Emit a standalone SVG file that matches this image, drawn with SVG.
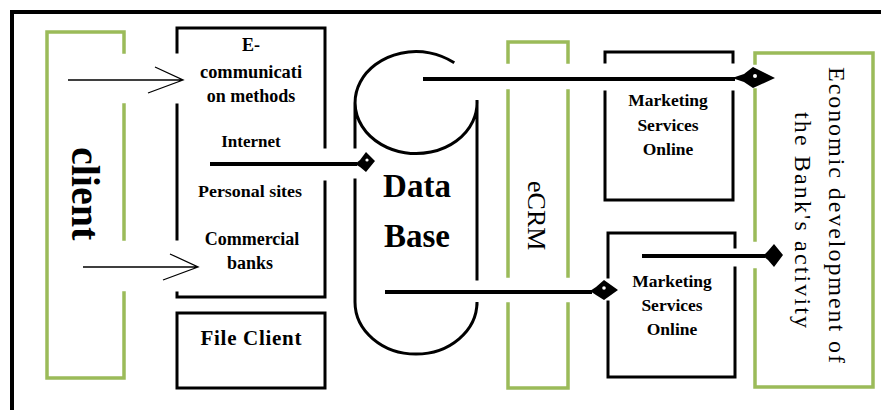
<svg xmlns="http://www.w3.org/2000/svg" width="881" height="410" viewBox="0 0 881 410">
<style>
.blk{fill:none;stroke:#000;stroke-width:3;stroke-linecap:square}
.grn{fill:none;stroke:#9BBB59;stroke-width:3.5;stroke-linecap:square}
.con{fill:none;stroke:#000;stroke-width:4}
.thin{fill:none;stroke:#000;stroke-width:1.3}
.dia{fill:#000}
.dot{fill:#fff}
text{font-family:"Liberation Serif","Times New Roman",serif;fill:#000}
.b{font-weight:bold}
.m{text-anchor:middle}
</style>
<rect width="881" height="410" fill="#fff"/>
<path d="M12,410 L12,12 L881,12" fill="none" stroke="#000" stroke-width="4"/>

<g id="client">
  <path class="grn" d="M124,52 L124,32 L47,32 L47,378 L124,378 L124,293 M124,105 L124,239"/>
  <text class="b" font-size="40" transform="translate(72,147) rotate(90)">client</text>
</g>

<g id="ecomm">
  <path class="blk" d="M177,52 L177,28 L325,28 L325,147 M325,182 L325,297 L177,297 L177,293 M177,105 L177,239"/>
  <text class="b m" font-size="18" x="251" y="51">E-</text>
  <text class="b m" font-size="18" x="251" y="78" textLength="102" lengthAdjust="spacingAndGlyphs">communicati</text>
  <text class="b m" font-size="18" x="251" y="102">on methods</text>
  <text class="b m" font-size="17" x="251" y="147">Internet</text>
  <text class="b m" font-size="17" x="250" y="197" textLength="104" lengthAdjust="spacingAndGlyphs">Personal sites</text>
  <text class="b m" font-size="18" x="252" y="245">Commercial</text>
  <text class="b m" font-size="18" x="250" y="269">banks</text>
</g>

<g id="fileclient">
  <rect class="blk" x="177" y="313" width="148" height="75"/>
  <text class="b m" font-size="21" x="251" y="345" textLength="101" lengthAdjust="spacing">File Client</text>
</g>

<g id="database">
  <path class="blk" d="M453,62 A61,51 0 1,0 477,100 L477,279 M355,104 L355,147 M355,180 L355,302 A61,52 0 0,0 477,302 L477,304"/>
  <text class="b m" font-size="33" x="417" y="197">Data</text>
  <text class="b m" font-size="33" x="417" y="247">Base</text>
</g>

<g id="ecrm">
  <path class="grn" d="M508,62 L508,42 L568,42 L568,62 M508,91 L508,276 M568,91 L568,276 M508,304 L508,388 L568,388 L568,304"/>
  <text font-size="26" transform="translate(528,181) rotate(90)">eCRM</text>
</g>

<g id="marketing1">
  <path class="blk" d="M605,62 L605,52 L733,52 L733,62 M605,92 L605,200 L733,200 L733,92"/>
  <text class="b m" font-size="17.5" x="668" y="106">Marketing</text>
  <text class="b m" font-size="17.5" x="668" y="131">Services</text>
  <text class="b m" font-size="17.5" x="668" y="155">Online</text>
</g>

<g id="marketing2">
  <path class="blk" d="M608,277 L608,233 L735,233 L735,247 M735,268 L735,377 L608,377 L608,302"/>
  <text class="b m" font-size="17.5" x="672" y="287">Marketing</text>
  <text class="b m" font-size="17.5" x="672" y="311">Services</text>
  <text class="b m" font-size="17.5" x="672" y="335">Online</text>
</g>

<g id="economic">
  <path class="grn" d="M755,63 L755,53 L873,53 L873,387 L755,387 L755,270 M755,90 L755,240"/>
  <text class="m" font-size="24" transform="translate(829,215) rotate(90)" textLength="296" lengthAdjust="spacing">Economic development of</text>
  <text class="m" font-size="24" transform="translate(795,220) rotate(90)" textLength="216" lengthAdjust="spacing">the Bank's activity</text>
</g>

<g id="connectors">
  <path class="thin" d="M68,80 L183,80 M155,67 L183,80 L148,93"/>
  <path class="thin" d="M83,267 L198,267 M170,254 L198,267 L163,280"/>
  <path class="con" d="M210,164 L357,164"/>
  <path class="dia" d="M355,164 L360,160 L366,152 L375,161 L366,172 L360,167 Z"/>
  <circle class="dot" cx="367" cy="160" r="1.6"/>
  <path class="con" d="M423,79 L735,79"/>
  <path class="dia" d="M732,78 L744,74 L753,67 L775,78 L753,88 L744,82 Z"/>
  <circle class="dot" cx="755" cy="76" r="2"/>
  <path class="con" d="M385,292 L592,292"/>
  <path class="dia" d="M590,291 L596,287 L604,280 L618,290 L604,300 L596,295 Z"/>
  <circle class="dot" cx="604" cy="288" r="1.8"/>
  <path class="con" d="M642,256 L765,256"/>
  <path class="dia" d="M763,256 L768,251 L774,244 L783,255 L774,267 L768,260 Z"/>
</g>
</svg>
